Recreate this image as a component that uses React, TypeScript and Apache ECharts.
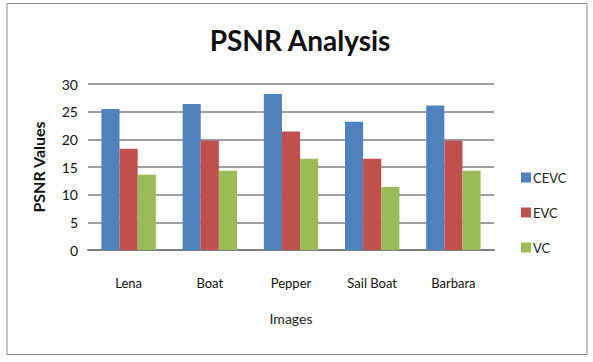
import React, { useEffect, useRef } from "react";
import * as echarts from "echarts";

const categories = ["Lena", "Boat", "Pepper", "Sail Boat", "Barbara"];
const cevc = [25.5, 26.4, 28.2, 23.2, 26.1];
const evc = [18.3, 19.8, 21.4, 16.5, 19.8];
const vc = [13.6, 14.3, 16.5, 11.4, 14.3];
const seriesNames = ["CEVC", "EVC", "VC"];
const colors = ["#4F81BD", "#C0504D", "#9BBB59"];

export default function App() {
  const ref = useRef<HTMLDivElement>(null);
  useEffect(() => {
    if (!ref.current) return;
    const chart = echarts.init(ref.current, null, { renderer: "svg" });
    const font = "Lato, 'Open Sans', sans-serif";
    chart.setOption({
      animation: false,
      backgroundColor: "#ffffff",
      textStyle: { fontFamily: font },
      title: {
        text: "PSNR Analysis",
        left: 295,
        top: 21,
        textAlign: "center",
        textStyle: { fontSize: 28, fontWeight: "bold", color: "#111", fontFamily: font },
      },
      graphic: [
        {
          type: "rect",
          shape: { x: 7, y: 3.5, width: 580, height: 351 },
          style: { fill: "none", stroke: "#8a8a8a", lineWidth: 1 },
          silent: true,
        },
      ],
      legend: {
        orient: "vertical",
        left: 516,
        top: 166,
        itemWidth: 10,
        itemHeight: 10,
        itemGap: 22,
        icon: "rect",
        data: seriesNames,
        textStyle: { fontSize: 13, color: "#222", fontFamily: font, padding: [0, 0, 0, -3] },
      },
      grid: { left: 88, right: 99, top: 84, bottom: 112 },
      xAxis: {
        type: "category",
        data: categories,
        name: "Images",
        nameLocation: "middle",
        nameGap: 61,
        nameTextStyle: { fontSize: 14, color: "#222", fontFamily: font },
        axisLine: { lineStyle: { color: "#7f7f7f", width: 2 } },
        axisTick: { show: false },
        axisLabel: { fontSize: 13, color: "#111", margin: 26, fontFamily: font },
      },
      yAxis: {
        type: "value",
        min: 0,
        max: 30,
        interval: 5,
        name: "PSNR Values",
        nameLocation: "middle",
        nameGap: 42,
        nameTextStyle: { fontSize: 16, fontWeight: "bold", color: "#111", fontFamily: font },
        axisLine: { show: false },
        axisTick: { show: false },
        axisLabel: { fontSize: 14, color: "#111", margin: 10, fontFamily: font },
        splitLine: { lineStyle: { color: "#7f7f7f", width: 1.5 } },
      },
      series: [cevc, evc, vc].map((d, i) => ({
        name: seriesNames[i],
        type: "bar",
        data: d,
        barGap: "0%",
        barCategoryGap: "33%",
        itemStyle: { color: colors[i] },
      })),
    });
    return () => chart.dispose();
  }, []);
  return (
    <div
      ref={ref}
      style={{ position: "fixed", left: 0, top: 0, width: 593, height: 362 }}
    />
  );
}
